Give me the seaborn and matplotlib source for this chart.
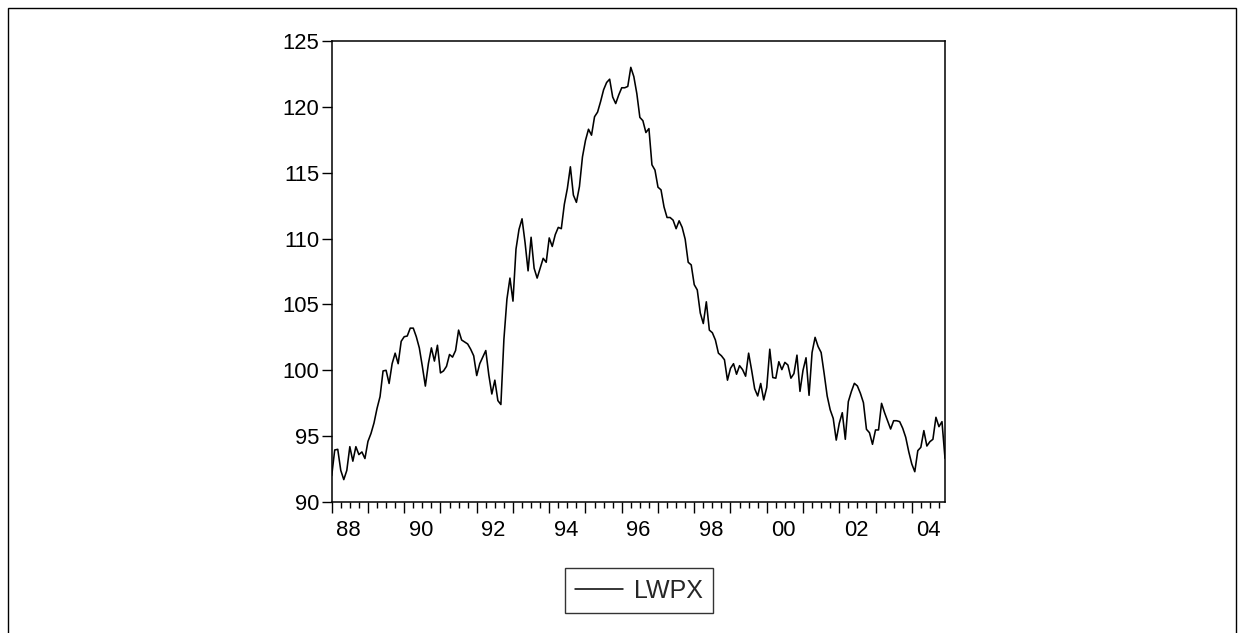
import numpy as np
import pandas as pd
import matplotlib
matplotlib.use("Agg")
import matplotlib.pyplot as plt
import seaborn as sns
from matplotlib.patches import Rectangle
from matplotlib.ticker import NullLocator

# ---------------- data (monthly, 1988M01 - 2004M12) ----------------
series_name = "LWPX"
start_year = 1988

lwpx_1988 = [92.0, 93.95, 94.0, 92.4, 91.7, 92.4, 94.2, 93.1, 94.2, 93.6, 93.8, 93.3]
lwpx_1989 = [94.6, 95.2, 96.0, 97.1, 98.0, 99.95, 100.0, 99.0, 100.5, 101.3, 100.5, 102.2]
lwpx_1990 = [102.55, 102.6, 103.2, 103.2, 102.55, 101.7, 100.3, 98.8, 100.5, 101.7, 100.7, 101.9]
lwpx_1991 = [99.8, 99.95, 100.3, 101.2, 101.0, 101.5, 103.05, 102.3, 102.15, 102.0, 101.6, 101.1]
lwpx_1992 = [99.6, 100.5, 101.0, 101.5, 99.65, 98.2, 99.25, 97.7, 97.4, 102.35, 105.4, 107.0]
lwpx_1993 = [105.25, 109.2, 110.7, 111.5, 109.7, 107.55, 110.1, 107.75, 107.0, 107.75, 108.5, 108.2]
lwpx_1994 = [110.05, 109.4, 110.3, 110.85, 110.75, 112.6, 113.8, 115.45, 113.3, 112.75, 113.95, 116.2]
lwpx_1995 = [117.45, 118.3, 117.85, 119.25, 119.6, 120.4, 121.3, 121.85, 122.1, 120.75, 120.25, 120.9]
lwpx_1996 = [121.45, 121.45, 121.55, 123.0, 122.3, 121.0, 119.2, 118.95, 118.05, 118.35, 115.6, 115.2]
lwpx_1997 = [113.9, 113.7, 112.4, 111.6, 111.6, 111.4, 110.75, 111.35, 110.85, 109.95, 108.2, 108.0]
lwpx_1998 = [106.5, 106.1, 104.35, 103.55, 105.2, 103.05, 102.85, 102.3, 101.3, 101.1, 100.8, 99.25]
lwpx_1999 = [100.15, 100.5, 99.7, 100.35, 100.05, 99.55, 101.3, 100.0, 98.6, 98.05, 99.0, 97.75]
lwpx_2000 = [98.7, 101.6, 99.45, 99.4, 100.65, 100.05, 100.6, 100.4, 99.4, 99.75, 101.15, 98.4]
lwpx_2001 = [100.0, 100.95, 98.1, 101.35, 102.5, 101.8, 101.35, 99.75, 98.05, 97.0, 96.35, 94.7]
lwpx_2002 = [95.97, 96.78, 94.76, 97.62, 98.38, 99.01, 98.81, 98.25, 97.54, 95.52, 95.26, 94.38]
lwpx_2003 = [95.47, 95.47, 97.49, 96.78, 96.17, 95.54, 96.17, 96.17, 96.1, 95.6, 94.91, 93.82]
lwpx_2004 = [92.89, 92.3, 93.9, 94.15, 95.42, 94.25, 94.58, 94.76, 96.43, 95.72, 96.1, 93.32]

year_labels = ["88", "90", "92", "94", "96", "98", "00", "02", "04"]
y_ticks = [90, 95, 100, 105, 110, 115, 120, 125]

values = (lwpx_1988 + lwpx_1989 + lwpx_1990 + lwpx_1991 + lwpx_1992 + lwpx_1993 +
          lwpx_1994 + lwpx_1995 + lwpx_1996 + lwpx_1997 + lwpx_1998 + lwpx_1999 +
          lwpx_2000 + lwpx_2001 + lwpx_2002 + lwpx_2003 + lwpx_2004)
t = start_year + np.arange(len(values)) / 12.0
df = pd.DataFrame({"t": t, series_name: values})

# ---------------- style ----------------
sns.set_theme(style="ticks")
plt.rcParams["font.family"] = ["Liberation Sans", "DejaVu Sans"]
plt.rcParams["axes.linewidth"] = 1.1

W, H = 1244, 633
fig = plt.figure(figsize=(W / 100, H / 100), dpi=100)
fig.patch.set_facecolor("white")

left, right, top, bottom = 331.7, 945.0, 41.0, 502.0
ax = fig.add_axes([left / W, 1 - bottom / H, (right - left) / W, (bottom - top) / H])

sns.lineplot(data=df, x="t", y=series_name, ax=ax, color="black", linewidth=1.15,
             label=series_name, legend=False)

ax.set_xlim(t[0], t[-1])
ax.set_ylim(90, 125)
ax.set_xlabel("")
ax.set_ylabel("")
for s in ax.spines.values():
    s.set_visible(True)
    s.set_color("black")
    s.set_linewidth(1.1)

# y axis
ax.set_yticks(y_ticks)
ax.set_yticklabels([str(v) for v in y_ticks])
ax.tick_params(axis="y", direction="out", length=7, width=1.0, color="black",
               labelsize=15.8, pad=2, labelcolor="black")

# x axis: year ticks (long), quarter ticks (short), labels at mid-year every 2 years
years = np.arange(start_year, start_year + len(values) // 12)
ax.set_xticks(years)
ax.set_xticklabels([""] * len(years))
quarters = [y + q / 4 for y in years for q in (1, 2, 3) if y + q / 4 <= t[-1]]
ax.set_xticks(quarters, minor=True)
ax.tick_params(axis="x", which="major", direction="out", length=8, width=1.0, color="black")
ax.tick_params(axis="x", which="minor", direction="out", length=4.5, width=1.0, color="black")

label_years = [int(start_year + 2 * i) for i in range(len(year_labels))]
mids = [y + 5.5 / 12 for y in label_years]
sec = ax.secondary_xaxis("bottom")
sec.set_xticks(mids)
sec.set_xticklabels(year_labels)
sec.xaxis.set_minor_locator(NullLocator())
sec.tick_params(axis="x", length=0, pad=13, labelsize=15.8, labelcolor="black")
sec.spines["bottom"].set_visible(False)

# legend
handles, labels = ax.get_legend_handles_labels()
leg = fig.legend(handles, labels, loc="center",
                 bbox_to_anchor=(639 / W, 1 - 590.5 / H), bbox_transform=fig.transFigure,
                 frameon=True, fancybox=False, fontsize=18, handlelength=1.9,
                 handletextpad=0.45, borderpad=0.42, borderaxespad=0)
leg.get_frame().set_edgecolor("black")
leg.get_frame().set_linewidth(1.0)
for ln in leg.get_lines():
    ln.set_linewidth(1.1)

# outer frame
fig.add_artist(Rectangle((8 / W, -0.1), (1236 - 8) / W, 1.1 - 8 / H, fill=False,
                         edgecolor="black", linewidth=1.0, transform=fig.transFigure))

fig.savefig("out.png", dpi=100, facecolor="white")
